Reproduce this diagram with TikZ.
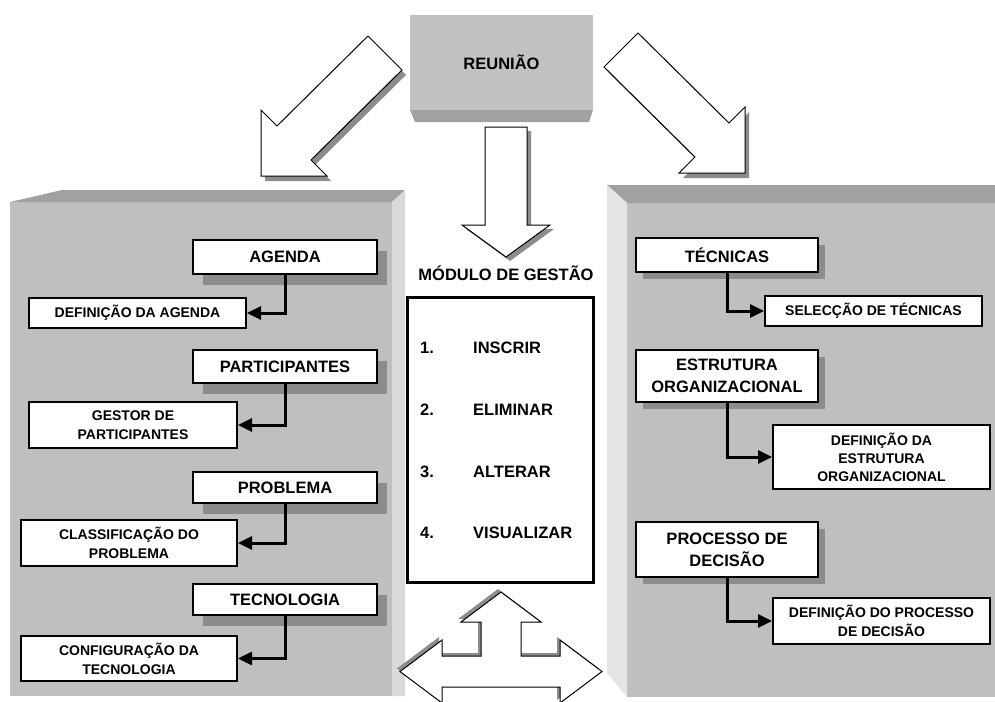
\documentclass[tikz,border=0pt]{standalone}
\usepackage{fontspec}
\setmainfont{Liberation Sans}
\usetikzlibrary{arrows.meta,shadows}
\definecolor{frontgray}{gray}{0.75}
\definecolor{topgray}{gray}{0.63}
\definecolor{sidegrayL}{gray}{0.85}
\definecolor{sidegrayR}{gray}{0.9}
\definecolor{shadgray}{gray}{0.55}
\definecolor{reufill}{gray}{0.76}
\definecolor{reubevel}{gray}{0.63}
\newcommand\mytitlefont{\fontsize{16.5pt}{22pt}\selectfont\bfseries}
\newcommand\mysmallfont{\fontsize{14pt}{19pt}\selectfont\bfseries}
\tikzset{
  titlebox/.style={draw=black, line width=2pt, fill=white, font=\mytitlefont, align=center, inner sep=0pt},
  lshadow/.style={drop shadow={shadow xshift=10pt, shadow yshift=-11pt, fill=shadgray, opacity=1}},
  rshadow/.style={drop shadow={shadow xshift=7pt, shadow yshift=-7pt, fill=shadgray, opacity=1}},
  smallbox/.style={draw=black, line width=2pt, fill=white, font=\mysmallfont, align=center, inner sep=0pt},
  conn/.style={line width=3pt, -{Triangle[length=14pt,width=13pt]}},
  blockarrow/.style={draw=black, line width=1pt, fill=white, line join=miter},
  arrowshadow/.style={fill=shadgray, draw=none},
  listtext/.style={font=\mytitlefont, anchor=west, inner sep=0pt},
}
\begin{document}
\begin{tikzpicture}[x=1pt, y=-1pt]
\useasboundingbox (0,0) rectangle (995,701);
\clip (0,0) rectangle (995,701);
\fill[white] (0,0) rectangle (995,701);

% ---------- left panel ----------
\fill[frontgray] (10,202) rectangle (392,696);
\fill[topgray] (10,202) -- (62,190) -- (405,190) -- (392,202) -- cycle;
\fill[sidegrayL] (392,202) -- (405,190) -- (405,696) -- (392,696) -- cycle;

% ---------- right panel ----------
\fill[frontgray] (627,203) rectangle (995,697);
\fill[topgray] (607,185) -- (995,185) -- (995,203) -- (627,203) -- cycle;
\fill[sidegrayR] (607,185) -- (627,203) -- (627,697) -- (607,673) -- cycle;

% ---------- REUNIAO ----------
\fill[reubevel] (410,110) -- (593,110) -- (589,122) -- (415,122) -- cycle;
\node[fill=reufill, minimum width=183pt, minimum height=95pt, inner sep=0pt, font=\mytitlefont] (reuniao) at (501.5,62.5) {REUNIÃO};

% ---------- diagonal arrows ----------
\fill[arrowshadow, xshift=4pt, yshift=-5pt] (368,36) -- (277,126) -- (261,110) -- (261,176) -- (327,176) -- (311,160) -- (402,70) -- cycle;
\draw[blockarrow] (368,36) -- (277,126) -- (261,110) -- (261,176) -- (327,176) -- (311,160) -- (402,70) -- cycle;

\fill[arrowshadow, xshift=4pt, yshift=-5pt] (638,33) -- (729,123) -- (745,107) -- (745,173) -- (679,173) -- (695,157) -- (604,67) -- cycle;
\draw[blockarrow] (638,33) -- (729,123) -- (745,107) -- (745,173) -- (679,173) -- (695,157) -- (604,67) -- cycle;

% ---------- down arrow ----------
\fill[arrowshadow, xshift=4pt, yshift=-4pt] (485,127) -- (527,127) -- (527,225) -- (550,225) -- (506,257) -- (462,225) -- (485,225) -- cycle;
\draw[blockarrow] (485,127) -- (527,127) -- (527,225) -- (550,225) -- (506,257) -- (462,225) -- (485,225) -- cycle;

% ---------- module ----------
\node[font=\mytitlefont, inner sep=0pt] (modtitle) at (506,273) {MÓDULO DE GESTÃO};
\node[draw=black, line width=3pt, fill=white, minimum width=186pt, minimum height=285pt, inner sep=0pt] (modbox) at (500,439.5) {};
\node[listtext] (n1) at (420,348) {1.};
\node[listtext] (w1) at (473,348) {INSCRIR};
\node[listtext] (n2) at (420,410) {2.};
\node[listtext] (w2) at (473,410) {ELIMINAR};
\node[listtext] (n3) at (420,472) {3.};
\node[listtext] (w3) at (473,472) {ALTERAR};
\node[listtext] (n4) at (420,533) {4.};
\node[listtext] (w4) at (473,533) {VISUALIZAR};

% ---------- bottom three-way arrow ----------
\fill[arrowshadow, xshift=-3pt, yshift=3pt] (501,592) -- (541,622) -- (521,622) -- (521,656) -- (560,656) -- (560,640) -- (602,671.5) -- (560,703) -- (560,687) -- (442,687) -- (442,703) -- (400,671.5) -- (442,640) -- (442,656) -- (481,656) -- (481,622) -- (461,622) -- cycle;
\draw[blockarrow] (501,592) -- (541,622) -- (521,622) -- (521,656) -- (560,656) -- (560,640) -- (602,671.5) -- (560,703) -- (560,687) -- (442,687) -- (442,703) -- (400,671.5) -- (442,640) -- (442,656) -- (481,656) -- (481,622) -- (461,622) -- cycle;

% ---------- left boxes ----------
\node[titlebox, lshadow, minimum width=184pt, minimum height=34pt] (agenda) at (285,257) {AGENDA};
\node[smallbox, minimum width=217pt, minimum height=30pt] (defag) at (137.5,313) {DEFINIÇÃO DA AGENDA};
\node[titlebox, lshadow, minimum width=184pt, minimum height=33pt] (partic) at (285,366.5) {PARTICIPANTES};
\node[smallbox, minimum width=208pt, minimum height=46pt] (gestor) at (133,425) {GESTOR DE\\PARTICIPANTES};
\node[titlebox, lshadow, minimum width=184pt, minimum height=31pt] (probl) at (285,487.5) {PROBLEMA};
\node[smallbox, minimum width=216pt, minimum height=46pt] (classif) at (129,543) {CLASSIFICAÇÃO DO\\PROBLEMA};
\node[titlebox, lshadow, minimum width=184pt, minimum height=31pt] (tecno) at (285,599.5) {TECNOLOGIA};
\node[smallbox, minimum width=216pt, minimum height=45pt] (config) at (129,658.5) {CONFIGURAÇÃO DA\\TECNOLOGIA};

\draw[conn] (agenda.south) |- (defag.east);
\draw[conn] (partic.south) |- (gestor.east);
\draw[conn] (probl.south) |- (classif.east);
\draw[conn] (tecno.south) |- (config.east);

% ---------- right boxes ----------
\node[titlebox, rshadow, minimum width=182pt, minimum height=34pt] (tecnicas) at (727,255) {TÉCNICAS};
\node[smallbox, minimum width=217pt, minimum height=30pt] (selec) at (873.5,311) {SELECÇÃO DE TÉCNICAS};
\node[titlebox, rshadow, minimum width=182pt, minimum height=52pt] (estrut) at (727,376) {ESTRUTURA\\ORGANIZACIONAL};
\node[smallbox, minimum width=217pt, minimum height=64pt, font=\fontsize{14pt}{18pt}\selectfont\bfseries] (defestr) at (881.5,457) {DEFINIÇÃO DA\\ESTRUTURA\\ORGANIZACIONAL};
\node[titlebox, rshadow, minimum width=182pt, minimum height=55pt] (proc) at (727,549.5) {PROCESSO DE\\DECISÃO};
\node[smallbox, minimum width=217pt, minimum height=46pt] (defproc) at (881.5,621) {DEFINIÇÃO DO PROCESSO\\DE DECISÃO};

\draw[conn] (tecnicas.south) |- (selec.west);
\draw[conn] (estrut.south) |- (defestr.west);
\draw[conn] (proc.south) |- (defproc.west);
\end{tikzpicture}
\end{document}
